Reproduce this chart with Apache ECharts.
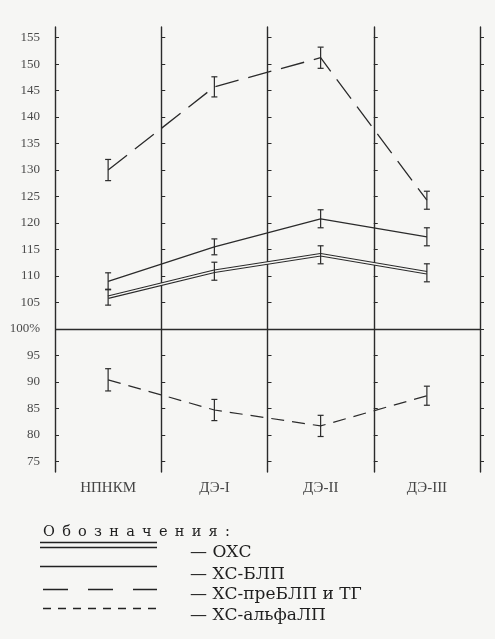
<!DOCTYPE html>
<html><head><meta charset="utf-8">
<script src="https://cdn.jsdelivr.net/npm/echarts@6/dist/echarts.min.js"></script>
<style>html,body{margin:0;padding:0;background:#f6f6f4}#c{width:495px;height:639px}</style>
</head><body><div id="c"></div>
<script>
// ---- data ----
const categories = ['НПНКМ', 'ДЭ-I', 'ДЭ-II', 'ДЭ-III'];
const seriesNames = ['ОХС', 'ХС-БЛП', 'ХС-преБЛП и ТГ', 'ХС-альфаЛП'];
const ohs = [106.0, 110.9, 114.0, 110.6];
const ohsErr = [1.5, 1.7, 1.7, 1.7];
const blp = [109.0, 115.5, 120.8, 117.4];
const blpErr = [1.6, 1.5, 1.7, 1.7];
const preblp = [130.0, 145.7, 151.2, 124.3];
const preblpErr = [2.0, 1.9, 2.0, 1.7];
const alpha = [90.4, 84.7, 81.7, 87.4];
const alphaErr = [2.1, 2.0, 2.0, 1.8];
const yTicks = [75, 80, 85, 90, 95, 100, 105, 110, 115, 120, 125, 130, 135, 140, 145, 150, 155];
const legendTitle = 'Обозначения:';

// ---- styles ----
const INK = '#2b2b2b';
const BG = '#f6f6f4';
const Y_MIN = 73, Y_MAX = 157;

function errData(vals, errs) {
  return vals.map((v, i) => [i, v - errs[i], v + errs[i]]);
}
function errRender(params, api) {
  const x = api.value(0);
  const p1 = api.coord([x, api.value(1)]);
  const p2 = api.coord([x, api.value(2)]);
  const w = 3;
  const st = { stroke: INK, lineWidth: 1.2 };
  return { type: 'group', children: [
    { type: 'line', shape: { x1: p1[0], y1: p1[1], x2: p2[0], y2: p2[1] }, style: st },
    { type: 'line', shape: { x1: p1[0] - w, y1: p1[1], x2: p1[0] + w, y2: p1[1] }, style: st },
    { type: 'line', shape: { x1: p2[0] - w, y1: p2[1], x2: p2[0] + w, y2: p2[1] }, style: st }
  ]};
}
function errSeries(vals, errs) {
  return { type: 'custom', renderItem: errRender, data: errData(vals, errs), z: 5, silent: true };
}

const gridLeft = 55, gridRight = 15, gridW = 495 - gridLeft - gridRight;
const yAxes = [0, 1, 2, 3, 4].map(k => ({
  type: 'value', position: 'left', offset: -k * gridW / 4,
  min: Y_MIN, max: Y_MAX,
  axisLine: { show: true, lineStyle: { color: INK, width: 1.4 } },
  axisTick: { show: true, inside: true, length: 4, customValues: yTicks, lineStyle: { color: INK, width: 1 } },
  axisLabel: k === 0 ? {
    show: true, customValues: yTicks, margin: 15,
    fontFamily: 'Liberation Serif', fontSize: 13, color: '#4a4a4a',
    formatter: v => v === 100 ? '100%' : String(v)
  } : { show: false },
  splitLine: { show: false }
}));

const lineBase = { type: 'line', symbol: 'none', yAxisIndex: 0, z: 4, silent: true };

const chart = echarts.init(document.getElementById('c'), null, { renderer: 'canvas' });
chart.setOption({
  backgroundColor: BG,
  animation: false,
  grid: { left: gridLeft, right: gridRight, top: 27, bottom: 167 },
  xAxis: {
    type: 'category', data: categories, boundaryGap: true,
    axisLine: { show: false }, axisTick: { show: false },
    axisLabel: { margin: 9, fontFamily: 'Liberation Serif', fontSize: 15, color: '#444' },
    splitLine: { show: false }
  },
  yAxis: yAxes,
  series: [
    Object.assign({}, lineBase, { name: seriesNames[0], data: ohs, lineStyle: { color: INK, width: 3.6 },
      markLine: { silent: true, symbol: 'none', label: { show: false },
        lineStyle: { color: INK, width: 1.4, type: 'solid' }, data: [{ yAxis: 100 }] } }),
    Object.assign({}, lineBase, { name: seriesNames[0] + ' ', data: ohs, lineStyle: { color: BG, width: 1.4 }, z: 4.5 }),
    Object.assign({}, lineBase, { name: seriesNames[1], data: blp, lineStyle: { color: INK, width: 1.3 } }),
    Object.assign({}, lineBase, { name: seriesNames[2], data: preblp, lineStyle: { color: INK, width: 1.3, type: [24, 10] } }),
    Object.assign({}, lineBase, { name: seriesNames[3], data: alpha, lineStyle: { color: INK, width: 1.2, type: [13, 8] } }),
    errSeries(ohs, ohsErr),
    errSeries(blp, blpErr),
    errSeries(preblp, preblpErr),
    errSeries(alpha, alphaErr)
  ],
  graphic: (function () {
    const els = [];
    const x1 = 40, x2 = 157;
    const ls = { stroke: '#222', lineWidth: 1.3 };
    const txtStyle = { fontFamily: 'DejaVu Serif', fontSize: 17, fill: '#1e1e1e', textVerticalAlign: 'middle' };
    els.push({ type: 'text', left: 43, top: 525,
      style: { text: legendTitle.split('').join('\u2002'), fontFamily: 'DejaVu Serif', fontSize: 14.5, fill: '#1e1e1e' } });
    // samples
    els.push({ type: 'line', shape: { x1, y1: 542.5, x2, y2: 542.5 }, style: ls });
    els.push({ type: 'line', shape: { x1, y1: 547.5, x2, y2: 547.5 }, style: ls });
    els.push({ type: 'line', shape: { x1, y1: 566.5, x2, y2: 566.5 }, style: ls });
    els.push({ type: 'line', shape: { x1: x1 + 3, y1: 589.5, x2, y2: 589.5 }, style: Object.assign({ lineDash: [25, 20] }, ls) });
    els.push({ type: 'line', shape: { x1: x1 + 3, y1: 608.5, x2, y2: 608.5 }, style: Object.assign({ lineDash: [8, 7] }, ls) });
    const ys = [553, 575, 595, 616];
    seriesNames.forEach((n, i) => {
      els.push({ type: 'text', x: 190, y: ys[i], style: Object.assign({ text: '— ' + n }, txtStyle) });
    });
    return els;
  })()
});
</script></body></html>
